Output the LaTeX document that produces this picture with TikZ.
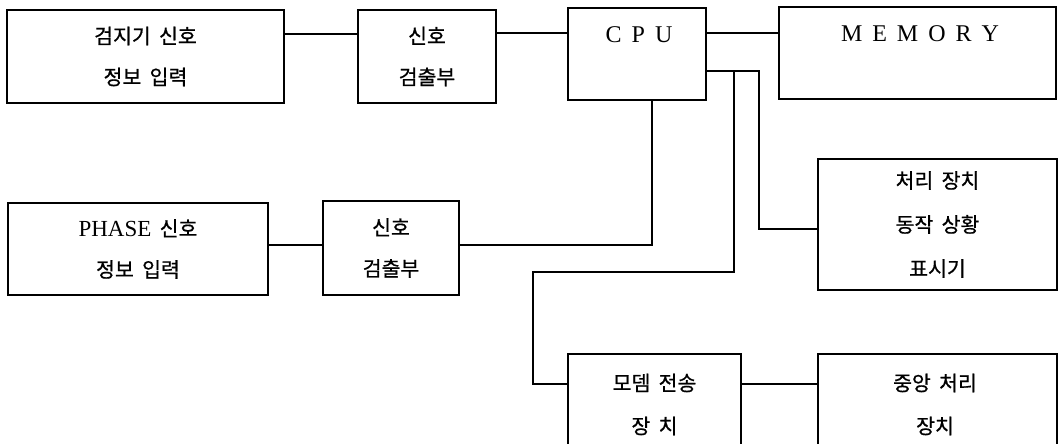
\documentclass[tikz,border=0pt]{standalone}
\usepackage{fontspec}
\setmainfont{Liberation Serif}
\newfontfamily\kr{Noto Sans CJK KR}[FakeBold=0.7, WordSpace=1.8]
\begin{document}
\begin{tikzpicture}[x=1pt,y=-1pt,
  box/.style={draw, line width=1.1pt, inner sep=0pt},
  wire/.style={line width=1.7pt},
  krtwo/.style={font=\kr\fontsize{20.5}{41}\selectfont, align=center, inner sep=0pt},
  krthree/.style={font=\kr\fontsize{20.5}{44}\selectfont, align=center, inner sep=0pt},
  krbot/.style={font=\kr\fontsize{20.5}{43}\selectfont, align=center, inner sep=0pt},
  lat/.style={font=\rmfamily\fontsize{24}{28}\selectfont, inner sep=0pt}]
\clip (0,0) rectangle (1061,444);
\fill[white] (0,0) rectangle (1061,444);
% boxes
\node[box, krtwo, minimum width=277pt, minimum height=93pt] (det) at (145.5,56.5) {검지기 신호\\정보 입력};
\node[box, krtwo, minimum width=138pt, minimum height=93pt] (sigA) at (427,56.5) {신호\\검출부};
\node[box, minimum width=138pt, minimum height=92pt] (cpu) at (637,54) {};
\node[lat] (cputxt) at (639,34.5) {C\hspace{10pt}P\hspace{10pt}U};
\node[box, minimum width=277pt, minimum height=92pt] (mem) at (917.5,53) {};
\node[lat] (memtxt) at (920,34) {M\hspace{10pt}E\hspace{10pt}M\hspace{10pt}O\hspace{10pt}R\hspace{10pt}Y};
\node[box, krtwo, minimum width=260pt, minimum height=92pt] (phase) at (138,249) {{\rmfamily\fontsize{23}{41}\selectfont PHASE} 신호\\정보 입력};
\node[box, krtwo, minimum width=136pt, minimum height=94pt] (sigB) at (391,248) {신호\\검출부};
\node[box, krthree, minimum width=239pt, minimum height=131pt] (proc) at (937.5,224.5) {처리 장치\\동작 상황\\표시기};
\node[box, minimum width=173pt, minimum height=126pt] (modem) at (654.5,417) {};
\node[krbot] (modemtxt) at (654.5,404.5) {모뎀 전송\\장 치};
\node[box, minimum width=239pt, minimum height=126pt] (cent) at (937.5,417) {};
\node[krbot] (centtxt) at (935,404.5) {중앙 처리\\장치};
% helper coordinates
\coordinate (ya) at (0,34);
\coordinate (yb) at (0,33);
\coordinate (yc) at (0,245);
\coordinate (yd) at (0,71);
\coordinate (ye) at (0,272);
\coordinate (yf) at (0,384);
\coordinate (yg) at (0,229);
\coordinate (xa) at (652,0);
\coordinate (xb) at (734,0);
\coordinate (xc) at (533,0);
\coordinate (xd) at (759,0);
% connectors
\draw[wire] (det.east |- ya) -- (sigA.west |- ya);
\draw[wire] (sigA.east |- yb) -- (cpu.west |- yb);
\draw[wire] (cpu.east |- yb) -- (mem.west |- yb);
\draw[wire] (phase.east |- yc) -- (sigB.west |- yc);
\draw[wire] (sigB.east |- yc) -| (xa |- cpu.south);
\draw[wire] (cpu.east |- yd) -| (xb |- ye) -| (xc |- yf) -- (modem.west |- yf);
\draw[wire] (cpu.east |- yd) -| (xd |- yg) -- (proc.west |- yg);
\draw[wire] (modem.east |- yf) -- (cent.west |- yf);
\end{tikzpicture}
\end{document}
